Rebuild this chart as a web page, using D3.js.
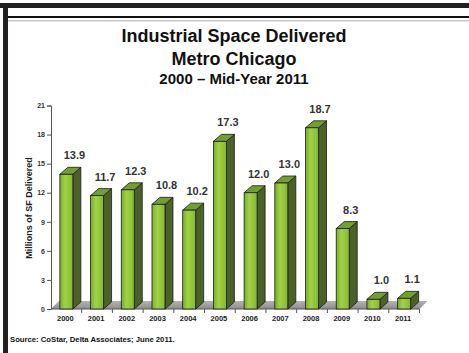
<!DOCTYPE html>
<html>
<head>
<meta charset="utf-8">
<script src="https://cdn.jsdelivr.net/npm/d3@7"></script>
<style>
body { margin: 0; background: #fff; }
svg { display: block; font-family: "Liberation Sans", Arial, sans-serif; }
</style>
</head>
<body>
<svg id="chart" width="469" height="353"></svg>
<script>
// data
var years = ["2000","2001","2002","2003","2004","2005","2006","2007","2008","2009","2010","2011"];
var delivered = [13.9, 11.7, 12.3, 10.8, 10.2, 17.3, 12.0, 13.0, 18.7, 8.3, 1.0, 1.1];
var yTicks = [0, 3, 6, 9, 12, 15, 18, 21];
var titleLines = ["Industrial Space Delivered", "Metro Chicago", "2000 \u2013 Mid-Year 2011"];

var svg = d3.select("#chart");
var w = 469, h = 353;

// page frame
svg.append("rect").attr("x", 0).attr("y", 3).attr("width", w).attr("height", 5).attr("fill", "#231f20");
svg.append("rect").attr("x", 3).attr("y", 3).attr("width", 5).attr("height", h - 3).attr("fill", "#231f20");
svg.append("rect").attr("x", 8).attr("y", 16).attr("width", w - 8).attr("height", 2).attr("fill", "#111");
svg.append("rect").attr("x", 8).attr("y", 20).attr("width", w - 8).attr("height", 1.5).attr("fill", "#c8c8c8");

// titles
var tSize = [18, 18, 15], tBase = [42, 65, 84];
titleLines.forEach(function(t, i){
	svg.append("text").attr("x", 234).attr("y", tBase[i])
		.attr("text-anchor", "middle").attr("font-weight", "bold")
		.attr("font-size", tSize[i]).attr("fill", "#111").text(t);
});

// scales
var x = d3.scaleBand().domain(years).range([51, 419.5]).padding(0);
var y = d3.scaleLinear().domain([0, 21]).range([309, 105.5]);
var dx = 8, dy = 7, bw = 13;

// gradients
var defs = svg.append("defs");
var g1 = defs.append("linearGradient").attr("id", "front").attr("x1", 0).attr("x2", 1).attr("y1", 0).attr("y2", 0);
g1.append("stop").attr("offset", "0%").attr("stop-color", "#78ad2c");
g1.append("stop").attr("offset", "40%").attr("stop-color", "#a2d243");
g1.append("stop").attr("offset", "100%").attr("stop-color", "#82b933");
var g2 = defs.append("linearGradient").attr("id", "floor").attr("x1", 0).attr("x2", 0).attr("y1", 0).attr("y2", 1);
g2.append("stop").attr("offset", "0%").attr("stop-color", "#b4b4b4");
g2.append("stop").attr("offset", "100%").attr("stop-color", "#8c8c8c");

// floor
var x0 = x.range()[0], x1 = x.range()[1], yb = y(0);
svg.append("path")
	.attr("d", "M" + x0 + "," + yb + "L" + x1 + "," + yb + "L" + (x1 + dx) + "," + (yb - dy - 1) + "L" + (x0 + dx) + "," + (yb - dy - 1) + "Z")
	.attr("fill", "url(#floor)");

// y axis
var yAxis = svg.append("g").attr("transform", "translate(" + x0 + ",0)")
	.call(d3.axisLeft(y).tickValues(yTicks).tickSize(4).tickPadding(2));
yAxis.select(".domain").attr("stroke", "#555");
yAxis.selectAll(".tick line").attr("stroke", "#555");
yAxis.selectAll("text").attr("font-size", 7).attr("font-weight", "bold").attr("fill", "#333").attr("font-family", "Liberation Sans, Arial, sans-serif");

// x axis
svg.append("line").attr("x1", x0).attr("x2", x1).attr("y1", yb).attr("y2", yb).attr("stroke", "#555");
svg.selectAll("line.xtick").data(years).enter().append("line").attr("class", "xtick")
	.attr("x1", function(d){ return x(d) + x.bandwidth(); })
	.attr("x2", function(d){ return x(d) + x.bandwidth(); })
	.attr("y1", yb).attr("y2", yb + 4).attr("stroke", "#555");
svg.selectAll("text.xlab").data(years).enter().append("text").attr("class", "xlab")
	.attr("x", function(d){ return x(d) + x.bandwidth() / 2 - 1; })
	.attr("y", 321).attr("text-anchor", "middle").attr("font-size", 7.5)
	.attr("font-weight", "bold").attr("fill", "#222").text(function(d){ return d; });

// bars
var bars = svg.selectAll("g.bar").data(years).enter().append("g").attr("class", "bar");
bars.each(function(d, i){
	var g = d3.select(this);
	var l = x(d) + (x.bandwidth() - bw) / 2, r = l + bw;
	var top = y(delivered[i]);
	// side
	g.append("path")
		.attr("d", "M" + r + "," + yb + "L" + (r + dx) + "," + (yb - dy) + "L" + (r + dx) + "," + (top - dy) + "L" + r + "," + top + "Z")
		.attr("fill", "#4a6127").attr("stroke", "#1c1c1c").attr("stroke-width", 0.8).attr("stroke-linejoin", "round");
	// top
	g.append("path")
		.attr("d", "M" + l + "," + top + "L" + (l + dx) + "," + (top - dy) + "L" + (r + dx) + "," + (top - dy) + "L" + r + "," + top + "Z")
		.attr("fill", "#72a030").attr("stroke", "#1c1c1c").attr("stroke-width", 0.8).attr("stroke-linejoin", "round");
	// front
	g.append("rect").attr("x", l).attr("y", top).attr("width", bw).attr("height", yb - top)
		.attr("fill", "url(#front)").attr("stroke", "#1c1c1c").attr("stroke-width", 0.8);
	// value
	g.append("text").attr("x", l + bw / 2 + dx).attr("y", top - dy - 8)
		.attr("text-anchor", "middle").attr("font-size", 11).attr("font-weight", "bold")
		.attr("fill", "#333").text(delivered[i].toFixed(1));
});

// y label
svg.append("text").attr("transform", "translate(32,208) rotate(-90)")
	.attr("text-anchor", "middle").attr("font-size", 9).attr("font-weight", "bold")
	.attr("fill", "#222").text("Millions of SF Delivered");

// source
svg.append("text").attr("x", 10).attr("y", 342).attr("font-size", 7.7).attr("font-weight", "bold")
	.attr("fill", "#111").text("Source: CoStar, Delta Associates; June 2011.");
</script>
</body>
</html>
